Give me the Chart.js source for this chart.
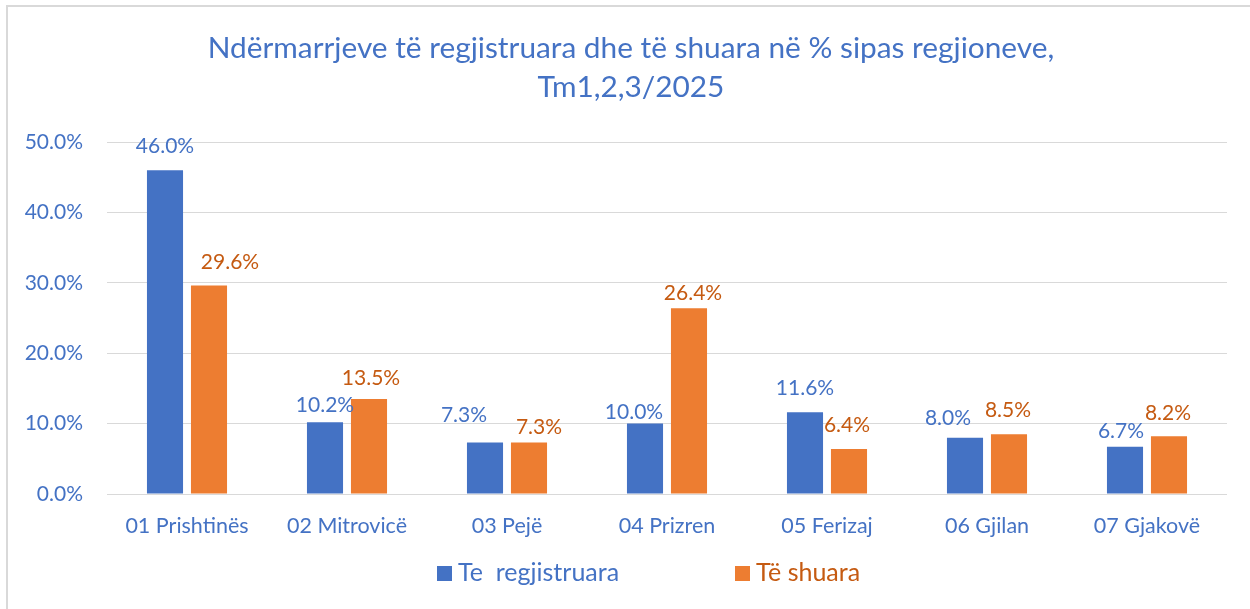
<!DOCTYPE html>
<html>
<head>
<meta charset="utf-8">
<script src="https://cdn.jsdelivr.net/npm/chart.js@4.4.1/dist/chart.umd.min.js"></script>
<style>
  html, body { margin: 0; padding: 0; background: #fff; overflow: hidden; }
  #wrap { position: relative; width: 1250px; height: 609px; }
  #frame { position: absolute; left: 6px; top: 5px; width: 1260px; height: 620px;
           border-top: 2px solid #d9d9d9; border-left: 2px solid #d9d9d9; box-sizing: border-box; }
  canvas { position: absolute; left: 0; top: 0; }
</style>
</head>
<body>
<div id="wrap">
  <div id="frame"></div>
  <canvas id="chart" width="1250" height="609"></canvas>
</div>
<script>
const titleLines = ['Ndërmarrjeve të regjistruara dhe të shuara në % sipas regjioneve,', 'Tm1,2,3/2025']
const regions = ['01 Prishtinës', '02 Mitrovicë', '03 Pejë', '04 Prizren', '05 Ferizaj', '06 Gjilan', '07 Gjakovë']
const registered = [46.0, 10.2, 7.3, 10.0, 11.6, 8.0, 6.7]
const closed = [29.6, 13.5, 7.3, 26.4, 6.4, 8.5, 8.2]
const seriesNames = ['Te  regjistruara', 'Të shuara']
const yTicks = [0, 10, 20, 30, 40, 50]

const BLUE = '#4472C4'
const ORANGE = '#ED7D31'
const ORANGE_TEXT = '#C55A11'
const FONT = 'Lato, "Open Sans", sans-serif'

// hand-placed label offsets (px from bar top centre), like the Excel original
const labelNudge = [
  [[0, -25], [0, -18], [-21, -28], [-11, -12], [0, -25], [-17, -20], [-4, -17]],
  [[21, -24], [2, -22], [10, -16], [4, -16], [-2, -25], [-1, -25], [-1, -24]]
]

// title drawn at the top, centered
const titlePlugin = {
  id: 'excelTitle',
  afterDraw(chart) {
    const ctx = chart.ctx
    ctx.save()
    ctx.fillStyle = BLUE
    ctx.font = '29.8px ' + FONT
    ctx.textAlign = 'center'
    ctx.textBaseline = 'middle'
    ctx.fillText(titleLines[0], 631, 48)
    ctx.fillText(titleLines[1], 631, 87)
    ctx.restore()
  }
}

// value labels above each bar
const labelPlugin = {
  id: 'valueLabels',
  afterDatasetsDraw(chart) {
    const ctx = chart.ctx
    ctx.save()
    ctx.font = '21px ' + FONT
    ctx.textAlign = 'center'
    ctx.textBaseline = 'middle'
    chart.data.datasets.forEach((ds, i) => {
      const meta = chart.getDatasetMeta(i)
      ctx.fillStyle = i === 0 ? BLUE : ORANGE_TEXT
      meta.data.forEach((bar, j) => {
        const [dx, dy] = labelNudge[i][j]
        ctx.fillText(ds.data[j].toFixed(1) + '%', bar.x + dx, bar.y + dy + 1)
      })
    })
    ctx.restore()
  }
}

// legend at the bottom, Excel style spacing
const legendPlugin = {
  id: 'bottomLegend',
  afterDraw(chart) {
    const ctx = chart.ctx
    const starts = [437, 735]
    const colors = [BLUE, ORANGE]
    const textColors = [BLUE, ORANGE_TEXT]
    ctx.save()
    ctx.font = '25px ' + FONT
    ctx.textBaseline = 'middle'
    ctx.textAlign = 'left'
    seriesNames.forEach((name, i) => {
      ctx.fillStyle = colors[i]
      ctx.fillRect(starts[i], 566, 15, 15)
      ctx.fillStyle = textColors[i]
      ctx.fillText(name, starts[i] + 21, 573)
    })
    ctx.restore()
  }
}

new Chart(document.getElementById('chart'), {
  type: 'bar',
  data: {
    labels: regions,
    datasets: [
      { label: seriesNames[0], data: registered, backgroundColor: BLUE, categoryPercentage: 0.55, barPercentage: 0.82 },
      { label: seriesNames[1], data: closed, backgroundColor: ORANGE, categoryPercentage: 0.55, barPercentage: 0.82 }
    ]
  },
  options: {
    responsive: false,
    animation: false,
    layout: { padding: { top: 142, right: 23, bottom: 0, left: 0 } },
    plugins: {
      legend: { display: false },
      title: { display: false },
      tooltip: { enabled: false }
    },
    scales: {
      y: {
        min: 0,
        max: 50,
        afterBuildTicks: (scale) => { scale.ticks = yTicks.map(v => ({ value: v })) },
        afterFit: (scale) => { scale.width = 107 },
        grid: { color: '#d9d9d9', lineWidth: 1, drawTicks: false },
        border: { display: false },
        ticks: {
          color: BLUE,
          padding: 24,
          font: { family: FONT, size: 21 },
          callback: (v) => v.toFixed(1) + '%'
        }
      },
      x: {
        afterFit: (scale) => { scale.height = 115 },
        grid: { display: false, drawTicks: false },
        border: { display: false },
        ticks: {
          color: BLUE,
          padding: 19,
          font: { family: FONT, size: 21.5 }
        }
      }
    }
  },
  plugins: [titlePlugin, labelPlugin, legendPlugin]
})
</script>
</body>
</html>
